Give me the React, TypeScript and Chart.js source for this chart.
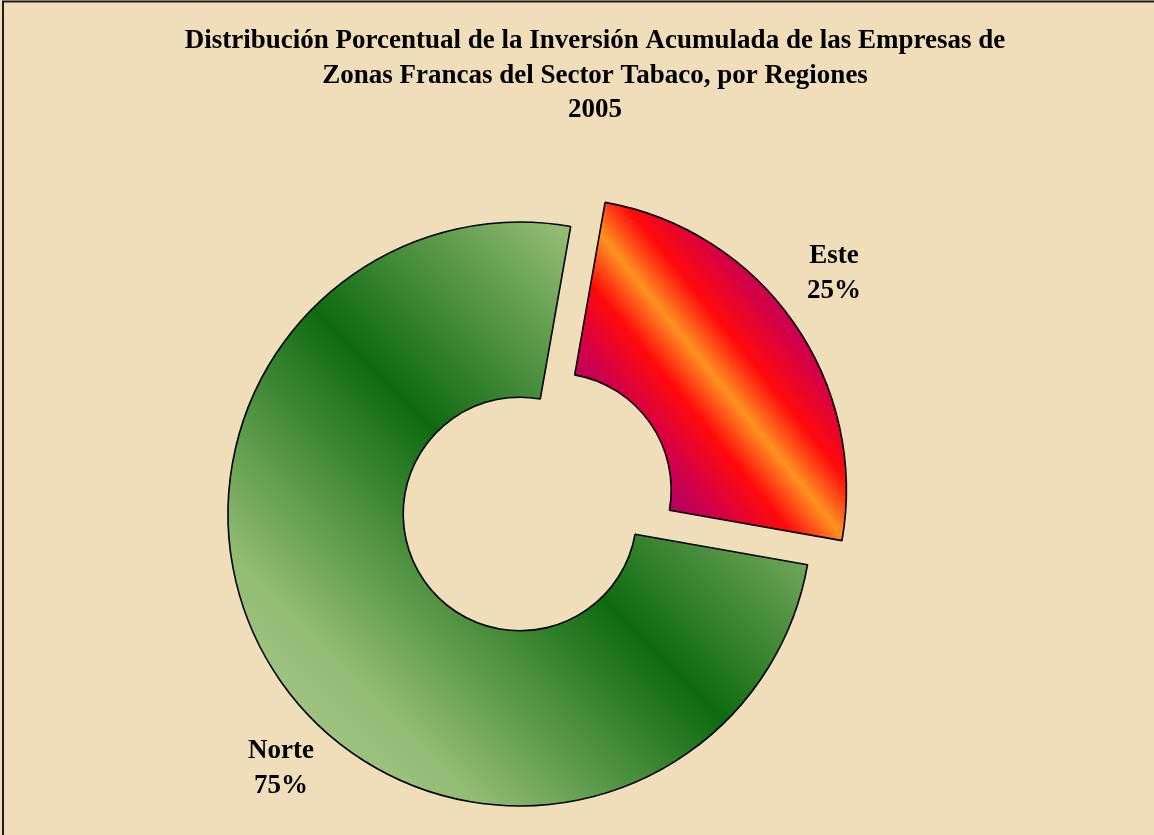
import React, { useEffect, useRef } from "react";
import Chart from "chart.js/auto";

const TITLE_LINES = [
  "Distribución Porcentual de la Inversión Acumulada de las Empresas de",
  "Zonas Francas del Sector Tabaco, por Regiones",
  "2005",
];
const REGIONS = ["Este", "Norte"];
const SHARES = [25, 75];
const SHARE_LABELS = ["25%", "75%"];

const W = 1154;
const H = 835;
const ROTATION_DEG = 10;
const OUTER_R = 292;
const CUTOUT = 0.4;

const ESTE_STOPS: [number, string][] = [
  [0, "#760A8E"],
  [0.15, "#96007F"],
  [0.3, "#D20048"],
  [0.41, "#FF0A0A"],
  [0.5, "#FF9222"],
  [0.59, "#FF0A0A"],
  [0.7, "#D20048"],
  [0.85, "#96007F"],
  [1, "#760A8E"],
];
const NORTE_STOPS: [number, string][] = [
  [0, "#B8D49C"],
  [0.22, "#92BB74"],
  [0.5, "#0E6A10"],
  [0.78, "#92BB74"],
  [1, "#B8D49C"],
];

function sectorBox(cx: number, cy: number, r0: number, r1: number, a0: number, a1: number) {
  const pts: number[][] = [];
  const push = (r: number, a: number) => pts.push([cx + r * Math.cos(a), cy + r * Math.sin(a)]);
  push(r0, a0);
  push(r0, a1);
  push(r1, a0);
  push(r1, a1);
  for (let k = Math.ceil(a0 / (Math.PI / 2)); (k * Math.PI) / 2 <= a1; k++) push(r1, (k * Math.PI) / 2);
  const xs = pts.map((p) => p[0]);
  const ys = pts.map((p) => p[1]);
  return { x0: Math.min(...xs), x1: Math.max(...xs), y0: Math.min(...ys), y1: Math.max(...ys) };
}

function diagGradient(c: CanvasRenderingContext2D, b: any, stops: [number, string][]) {
  const w = b.x1 - b.x0;
  const h = b.y1 - b.y0;
  const L = Math.hypot(w, h);
  const mx = (b.x0 + b.x1) / 2;
  const my = (b.y0 + b.y1) / 2;
  const nx = h / L;
  const ny = -w / L;
  const d = (w * h) / L;
  const g = c.createLinearGradient(mx - nx * d, my - ny * d, mx + nx * d, my + ny * d);
  stops.forEach(([o, col]) => g.addColorStop(o, col));
  return g;
}

function sliceFill(context: any) {
  const chart = context.chart;
  const area = chart.chartArea;
  const i = context.dataIndex;
  const stops = i === 0 ? ESTE_STOPS : NORTE_STOPS;
  if (!area) return stops[Math.floor(stops.length / 2)][1];
  const cx = (area.left + area.right) / 2;
  const cy = (area.top + area.bottom) / 2;
  const total = SHARES.reduce((a, v) => a + v, 0);
  let cum = 0;
  for (let k = 0; k < i; k++) cum += SHARES[k];
  const base = -Math.PI / 2 + (ROTATION_DEG * Math.PI) / 180;
  const a0 = base + (2 * Math.PI * cum) / total;
  const a1 = a0 + (2 * Math.PI * SHARES[i]) / total;
  const box = sectorBox(cx, cy, OUTER_R * CUTOUT, OUTER_R, a0, a1);
  return diagGradient(chart.ctx, box, stops);
}

const backgroundPlugin = {
  id: "paperBackground",
  beforeDraw(chart: any) {
    const c = chart.ctx;
    c.save();
    c.fillStyle = "#F0DEBB";
    c.fillRect(0, 0, chart.width, chart.height);
    c.restore();
  },
  afterDraw(chart: any) {
    const c = chart.ctx;
    c.save();
    c.strokeStyle = "#1c1c1c";
    c.lineWidth = 2;
    c.beginPath();
    c.moveTo(3, chart.height);
    c.lineTo(3, 1.5);
    c.lineTo(chart.width, 1.5);
    c.stroke();
    c.restore();
  },
};

const textPlugin = {
  id: "textLayer",
  afterDatasetsDraw(chart: any) {
    const c = chart.ctx;
    const area = chart.chartArea;
    const cx = (area.left + area.right) / 2;
    const cy = (area.top + area.bottom) / 2;
    c.save();
    c.fillStyle = "#000";
    c.textAlign = "center";
    c.textBaseline = "alphabetic";
    c.font = "bold 27px 'Liberation Serif', 'Times New Roman', serif";
    const titleX = 595;
    TITLE_LINES.forEach((t, k) => c.fillText(t, titleX, 48 + k * 34.5));
    const anchors = [
      [cx + 314, cy - 251],
      [cx - 239, cy + 244],
    ];
    REGIONS.forEach((name, k) => {
      const [x, y] = anchors[k];
      c.fillText(name, x, y);
      c.fillText(SHARE_LABELS[k], x, y + 35);
    });
    c.restore();
  },
};

export default function App() {
  const ref = useRef<HTMLCanvasElement | null>(null);
  useEffect(() => {
    if (!ref.current) return;
    const chart = new Chart(ref.current, {
      type: "doughnut",
      data: {
        labels: REGIONS,
        datasets: [
          {
            data: SHARES,
            backgroundColor: sliceFill,
            borderColor: "#000000",
            borderWidth: 1.6,
            offset: [168, 0],
          } as any,
        ],
      },
      options: {
        responsive: false,
        animation: false,
        devicePixelRatio: 1,
        events: [],
        rotation: ROTATION_DEG,
        cutout: CUTOUT * 100 + "%",
        radius: OUTER_R,
        layout: { padding: { left: 0, right: 114, top: 193, bottom: 0 } },
        plugins: {
          legend: { display: false },
          tooltip: { enabled: false },
          title: { display: false },
        },
      } as any,
      plugins: [backgroundPlugin, textPlugin],
    });
    return () => chart.destroy();
  }, []);
  return (
    <div style={{ position: "fixed", left: 0, top: 0, width: W, height: H }}>
      <canvas ref={ref} width={W} height={H} style={{ display: "block", width: W, height: H }} />
    </div>
  );
}
